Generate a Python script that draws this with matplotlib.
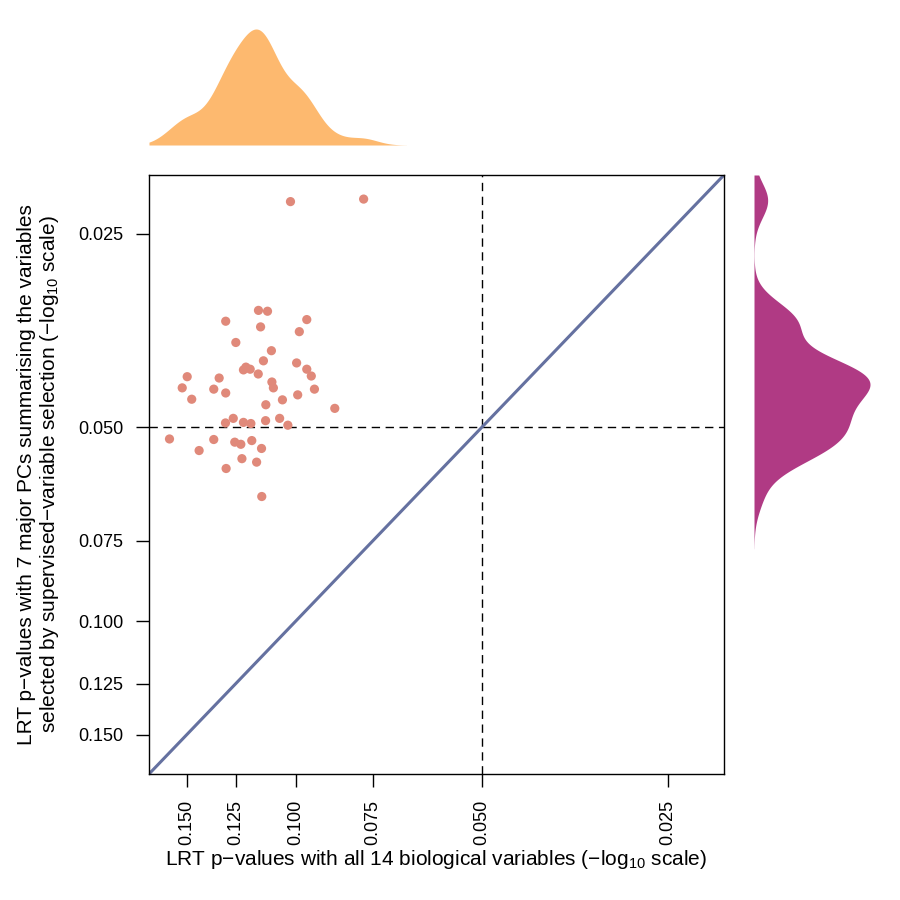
import numpy as np
import matplotlib
matplotlib.use("Agg")
import matplotlib.pyplot as plt

plt.rcParams['font.family'] = ['Liberation Sans', 'DejaVu Sans']
plt.rcParams['mathtext.fontset'] = 'custom'
plt.rcParams['mathtext.rm'] = 'Liberation Sans'
plt.rcParams['mathtext.it'] = 'Liberation Sans'
plt.rcParams['mathtext.bf'] = 'Liberation Sans'

# LRT p-values, all 14 biological variables (x) vs 7 major PCs (y)
p_all14 = [0.1148, 0.1110, 0.1297, 0.0959, 0.1139, 0.0986, 0.1249, 0.1094, 0.1127, 0.0996,
           0.1203, 0.1184, 0.1214, 0.0959, 0.0943, 0.1149, 0.1497, 0.1329, 0.1525, 0.1356,
           0.1092, 0.1086, 0.1297, 0.0932, 0.1472, 0.0992, 0.1050, 0.1117, 0.0864, 0.1261,
           0.1298, 0.1214, 0.1181, 0.1118, 0.1061, 0.1029, 0.1599, 0.1356, 0.1254, 0.1226,
           0.1177, 0.1432, 0.1135, 0.1221, 0.1156, 0.1295, 0.1134, 0.1019, 0.0776]
p_pcs7 = [0.0329, 0.0330, 0.0342, 0.0340, 0.0349, 0.0355, 0.0369, 0.0380, 0.0394, 0.0397,
          0.0403, 0.0406, 0.0407, 0.0406, 0.0416, 0.0413, 0.0417, 0.0419, 0.0434, 0.0436,
          0.0425, 0.0434, 0.0442, 0.0436, 0.0452, 0.0445, 0.0453, 0.0461, 0.0467, 0.0484,
          0.0492, 0.0491, 0.0493, 0.0488, 0.0484, 0.0496, 0.0521, 0.0522, 0.0527, 0.0531,
          0.0524, 0.0543, 0.0539, 0.0559, 0.0566, 0.0579, 0.0640, 0.0223, 0.0221]
tick_values = [0.150, 0.125, 0.100, 0.075, 0.050, 0.025]
threshold = 0.05

x = -np.log10(np.array(p_all14))
y = -np.log10(np.array(p_pcs7))
lims = (0.763, 1.693)

def kde(v, lo, hi):
    v = np.asarray(v)
    n = len(v)
    iqr = np.subtract(*np.percentile(v, [75, 25]))
    bw = 0.9 * min(np.std(v, ddof=1), iqr / 1.34) * n ** (-0.2)
    g = np.linspace(max(v.min() - 3 * bw, lo), min(v.max() + 3 * bw, hi), 512)
    d = np.exp(-0.5 * ((g[:, None] - v[None, :]) / bw) ** 2).sum(1) / (n * bw * np.sqrt(2 * np.pi))
    return g, d

W = H = 900
fig = plt.figure(figsize=(9, 9), dpi=100)
ax = fig.add_axes([149 / W, 1 - 774 / H, 575 / W, 599 / H])
ax_top = fig.add_axes([149 / W, 1 - 145 / H, 575 / W, 116 / H])
ax_right = fig.add_axes([754 / W, 1 - 774 / H, 116 / W, 599 / H])

ax.plot(lims, lims, color='#6571A0', lw=2.2, zorder=2, solid_capstyle='butt')
ax.axvline(-np.log10(threshold), color='black', lw=1.0, dashes=(6, 4), zorder=1)
ax.axhline(-np.log10(threshold), color='black', lw=1.0, dashes=(6, 4), zorder=1)
ax.scatter(x, y, s=44, color='#E0897A', edgecolors='none', zorder=3)
ax.set_xlim(lims)
ax.set_ylim(lims)
ticks = -np.log10(np.array(tick_values))
labels = ['%.3f' % t for t in tick_values]
ax.set_xticks(ticks)
ax.set_xticklabels(labels, rotation=90, fontsize=13)
ax.set_yticks(ticks)
ax.set_yticklabels(labels, fontsize=13)
ax.tick_params(length=9.5, width=1.0, pad=9)
for s in ax.spines.values():
    s.set_linewidth(1.0)
ax.set_xlabel('LRT p−values with all 14 biological variables (−log$_{10}$ scale)', fontsize=15, labelpad=2)
ax.set_ylabel('LRT p−values with 7 major PCs summarising the variables\n'
              'selected by supervised−variable selection (−log$_{10}$ scale)', fontsize=15, labelpad=12,
              linespacing=1.15)

gx, dx = kde(x, *lims)
ax_top.fill_between(gx, 0, dx, color='#FDB96F', lw=0)
ax_top.set_xlim(lims)
ax_top.set_ylim(0, dx.max())
ax_top.axis('off')

gy, dy = kde(y, *lims)
ax_right.fill_betweenx(gy, 0, dy, color='#B03A84', lw=0)
ax_right.set_ylim(lims)
ax_right.set_xlim(0, dy.max())
ax_right.axis('off')

fig.savefig('out.png', dpi=100)
